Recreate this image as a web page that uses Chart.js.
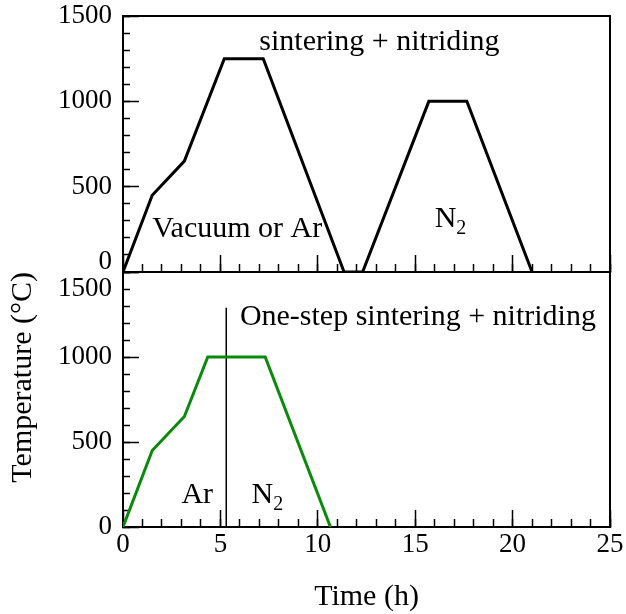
<!DOCTYPE html>
<html>
<head>
<meta charset="utf-8">
<script src="https://cdn.jsdelivr.net/npm/chart.js@4.4.1/dist/chart.umd.min.js"></script>
<style>
  html, body { margin: 0; padding: 0; background: #fff; }
  #wrap { position: relative; width: 626px; height: 614px; }
  #wrap canvas { position: absolute; left: 0; top: 0; }
</style>
</head>
<body>
<div id="wrap">
  <canvas id="topChart" width="626" height="614"></canvas>
  <canvas id="bottomChart" width="626" height="614"></canvas>
</div>
<script>
// top panel: sintering, then nitriding (two runs)
const timeTop = [0, 1.5, 3.15, 5.2, 7.2, 11.35, 12.3, 15.7, 17.65, 21.0];
const tempTop = [0, 450, 650, 1250, 1250, 0, 0, 1000, 1000, 0];

// bottom panel: one-step run
const timeBottom = [0, 1.5, 3.15, 4.35, 7.3, 10.65];
const tempBottom = [0, 450, 650, 1000, 1000, 0];

// Ar -> N2 switch marker
const switchTime = [5.3, 5.3];
const switchTemp = [0, 1290];

const xTicks = [0, 5, 10, 15, 20, 25];
const yTicks = [0, 500, 1000, 1500];

const SERIF = "'Liberation Serif', 'Times New Roman', serif";
const tickFont = { family: SERIF, size: 27, lineHeight: 1 };

function toPoints(xs, ys) {
    return xs.map((x, i) => ({ x: x, y: ys[i] }));
}

// text labels placed in data coordinates
function labelPlugin(labels) {
    return {
        id: 'labels',
        afterDatasetsDraw(chart) {
            const ctx = chart.ctx;
            const xs = chart.scales.x, ys = chart.scales.y;
            ctx.save();
            ctx.fillStyle = '#000';
            ctx.textBaseline = 'alphabetic';
            ctx.textAlign = 'left';
            labels.forEach(l => {
                let px = xs.getPixelForValue(l.x);
                const py = ys.getPixelForValue(l.y);
                ctx.font = '30px ' + SERIF;
                ctx.fillText(l.text, px, py);
                if (l.sub) {
                    px += ctx.measureText(l.text).width;
                    ctx.font = '20px ' + SERIF;
                    ctx.fillText(l.sub, px, py + 7);
                }
            });
            ctx.restore();
        }
    };
}

// keep chart area fixed: no extra room for edge labels
function noPad(s) {
    s.paddingLeft = s.paddingRight = s.paddingTop = s.paddingBottom = 0;
}

function buildScales(showLabels, yLabelFix) {
    const fixW = w => s => { s.width = w; noPad(s); };
    const fixH = h => s => { s.height = h; noPad(s); };
    return {
        x: {
            type: 'linear', position: 'bottom', weight: 1,
            min: 0, max: 25,
            afterBuildTicks: s => { s.ticks = xTicks.map(v => ({ value: v })); },
            grid: { drawOnChartArea: false, tickLength: -17, color: '#000', tickWidth: 1.5 },
            border: { display: true, color: '#000', width: 2 },
            ticks: { display: showLabels, font: tickFont, color: '#000', padding: 21, maxRotation: 0 },
            title: {
                display: showLabels, text: 'Time (h)', color: '#000',
                font: { family: SERIF, size: 30, lineHeight: 1 }, padding: { bottom: 2 }
            },
            afterFit: fixH(showLabels ? 87 : 0)
        },
        xMinor: {
            type: 'linear', position: 'bottom', weight: 0,
            min: 0, max: 25,
            ticks: { display: false, stepSize: 1 },
            grid: { drawOnChartArea: false, tickLength: -8, color: '#000', tickWidth: 1.5 },
            border: { display: false },
            afterFit: fixH(0)
        },
        xTop: {
            type: 'linear', position: 'top', min: 0, max: 25,
            ticks: { display: false },
            grid: { display: false },
            border: { display: true, color: '#000', width: 2 },
            afterFit: fixH(0)
        },
        y: {
            type: 'linear', position: 'left', weight: 1,
            min: 0, max: 1500,
            afterBuildTicks: s => { s.ticks = yTicks.map(v => ({ value: v })); },
            grid: { drawOnChartArea: false, tickLength: -16, color: '#000', tickWidth: 1.5 },
            border: { display: true, color: '#000', width: 2 },
            ticks: {
                font: c => {
                    const f = yLabelFix[c.tick && c.tick.value];
                    return f ? { family: SERIF, size: 27, lineHeight: f.lh + 'px' } : tickFont;
                },
                color: '#000', padding: 27,
                callback: v => {
                    const f = yLabelFix[v];
                    if (!f) return String(v);
                    return f.up ? [String(v), ''] : ['', String(v)];
                }
            },
            title: {
                display: showLabels, text: 'Temperature (°C)', color: '#000', align: 'end',
                font: { family: SERIF, size: 30, lineHeight: 1 }, padding: { top: 8 }
            },
            afterFit: fixW(123)
        },
        yMinor: {
            type: 'linear', position: 'left', weight: 0,
            min: 0, max: 1500,
            ticks: { display: false, stepSize: 100 },
            grid: { drawOnChartArea: false, tickLength: -7, color: '#000', tickWidth: 1.5 },
            border: { display: false },
            afterFit: fixW(0)
        },
        yRight: {
            type: 'linear', position: 'right', min: 0, max: 1500,
            ticks: { display: false },
            grid: { display: false },
            border: { display: true, color: '#000', width: 2 },
            afterFit: fixW(0)
        }
    };
}

const baseOptions = (padding, scales, labels) => ({
    type: 'line',
    options: {
        responsive: false,
        animation: false,
        layout: { padding: padding },
        plugins: { legend: { display: false }, tooltip: { enabled: false } },
        scales: scales
    },
    plugins: [labelPlugin(labels)]
});

// top panel
const topCfg = baseOptions(
    { left: 0, right: 16, top: 16, bottom: 342 },
    buildScales(false, { 0: { up: true, lh: 20 } }),
    [
        { text: 'sintering + nitriding', x: 7.0, y: 1300 },
        { text: 'Vacuum or Ar', x: 1.5, y: 205 },
        { text: 'N', sub: '2', x: 16.0, y: 264 }
    ]
);
topCfg.data = {
    datasets: [{
        data: toPoints(timeTop, tempTop),
        borderColor: '#000', borderWidth: 3, pointRadius: 0, tension: 0,
        borderJoinStyle: 'miter', fill: false
    }]
};
new Chart(document.getElementById('topChart'), topCfg);

// bottom panel
const bottomCfg = baseOptions(
    { left: 0, right: 16, top: 272, bottom: 0 },
    buildScales(true, { 1500: { up: false, lh: 34 } }),
    [
        { text: 'One-step sintering + nitriding', x: 6.0, y: 1190 },
        { text: 'Ar', x: 3.0, y: 139 },
        { text: 'N', sub: '2', x: 6.6, y: 139 }
    ]
);
bottomCfg.data = {
    datasets: [
        {
            data: toPoints(timeBottom, tempBottom),
            borderColor: '#0a8a0a', borderWidth: 3, pointRadius: 0, tension: 0,
            borderJoinStyle: 'miter', fill: false
        },
        {
            data: toPoints(switchTime, switchTemp),
            borderColor: '#000', borderWidth: 1.5, pointRadius: 0, fill: false
        }
    ]
};
new Chart(document.getElementById('bottomChart'), bottomCfg);
</script>
</body>
</html>
